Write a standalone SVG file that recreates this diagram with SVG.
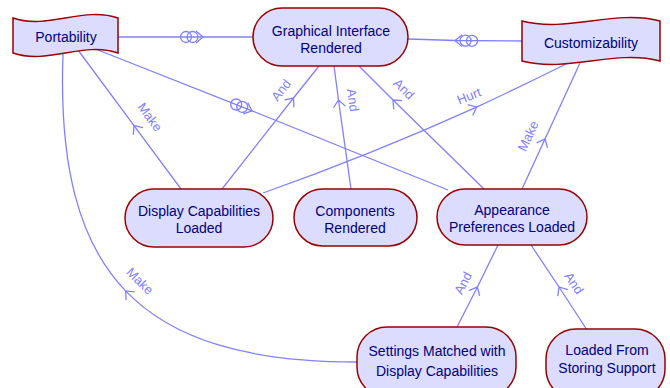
<svg xmlns="http://www.w3.org/2000/svg" width="670" height="388" viewBox="0 0 670 388">
<style>
.node{fill:#dcdcff;stroke:#990000;stroke-width:1.5}
.nt{font-family:"Liberation Sans",Arial,sans-serif;font-size:14px;fill:#000080;text-anchor:middle}
.edge{fill:none;stroke:#8080ff;stroke-width:1.3}
.lbl{font-family:"Liberation Sans",Arial,sans-serif;font-size:13px;fill:#8080ff;text-anchor:middle}
</style>
<defs>
<marker id="chev" markerUnits="userSpaceOnUse" markerWidth="20" markerHeight="20" viewBox="-10 -10 20 20" refX="0" refY="0" orient="auto" overflow="visible">
<path d="M-7,-6 L0,0 L-7,6" fill="none" stroke="#8080ff" stroke-width="1.3"/>
</marker>
<marker id="dep" markerUnits="userSpaceOnUse" markerWidth="30" markerHeight="20" viewBox="-25 -10 30 20" refX="0" refY="0" orient="auto" overflow="visible">
<circle cx="-17" cy="0" r="5.5" fill="none" stroke="#8080ff" stroke-width="1.3"/>
<circle cx="-10.5" cy="0" r="5.5" fill="none" stroke="#8080ff" stroke-width="1.3"/>
<path d="M-7,-6 L0,0 L-7,6" fill="none" stroke="#8080ff" stroke-width="1.3"/>
</marker>
</defs>
<rect width="670" height="388" fill="#ffffff"/>
<g id="connectors">
<path class="edge" marker-mid="url(#dep)" d="M118,37 L203,37 L253,37"/>
<path class="edge" marker-mid="url(#dep)" d="M522,41 L455,40.5 L408,39"/>
<path class="edge" marker-mid="url(#dep)" d="M98,50 L252,110.8 L448,190"/>
<path class="edge" marker-mid="url(#chev)" d="M181,189 L134,125.6 L78,50"/>
<text class="lbl" transform="translate(150,117) rotate(53.5)" dy=".35em">Make</text>
<path class="edge" marker-mid="url(#chev)" d="M222,189 L293.5,98 L319,66"/>
<text class="lbl" transform="translate(281,90) rotate(-52)" dy=".35em">And</text>
<path class="edge" marker-mid="url(#chev)" d="M351,189 L338.5,100 L334,66"/>
<text class="lbl" transform="translate(353,100) rotate(82)" dy=".35em">And</text>
<path class="edge" marker-mid="url(#chev)" d="M484,189 L393,100 L359,66"/>
<text class="lbl" transform="translate(404,89) rotate(45)" dy=".35em">And</text>
<path class="edge" marker-mid="url(#chev)" d="M263,193 Q371.5,154.5 476.6,107.1 Q521.6,86.2 566,64"/>
<text class="lbl" transform="translate(469,96) rotate(-22)" dy=".35em">Hurt</text>
<path class="edge" marker-mid="url(#chev)" d="M522,189 L545,139 L580,63"/>
<text class="lbl" transform="translate(528,136) rotate(-65)" dy=".35em">Make</text>
<path class="edge" marker-mid="url(#chev)" d="M457,327 L477.4,287 L498,245"/>
<text class="lbl" transform="translate(463,283) rotate(-63)" dy=".35em">And</text>
<path class="edge" marker-mid="url(#chev)" d="M587,330 L559,287 L531,245"/>
<text class="lbl" transform="translate(574,283) rotate(56)" dy=".35em">And</text>
<path class="edge" marker-mid="url(#chev)" d="M357,362 C248.5,362 173,340.25 125.6,290.9 C78.25,241.5 59,164.5 63,54"/>
<text class="lbl" transform="translate(140,281) rotate(45)" dy=".35em">Make</text>
</g>
<g id="portability">
<path class="node" d="M13,18 C48,30 83,6 118,18 L118,53 C83,41 48,65 13,53 Z"/>
<text class="nt" x="66" y="42">Portability</text>
</g>
<g id="customizability">
<path class="node" d="M522,21 C568,33 614,9 660,21 L660,61 C614,49 568,73 522,61 Z"/>
<text class="nt" x="591" y="48">Customizability</text>
</g>
<g id="graphical-interface-rendered">
<rect class="node" x="253" y="8" width="155" height="58" rx="29"/>
<text class="nt" x="331" y="36">Graphical Interface</text>
<text class="nt" x="331" y="53">Rendered</text>
</g>
<g id="display-capabilities-loaded">
<rect class="node" x="125" y="189" width="148" height="58" rx="29"/>
<text class="nt" x="199" y="216">Display Capabilities</text>
<text class="nt" x="199" y="233">Loaded</text>
</g>
<g id="components-rendered">
<rect class="node" x="294" y="189" width="123" height="57" rx="28.5"/>
<text class="nt" x="355" y="216">Components</text>
<text class="nt" x="355" y="233">Rendered</text>
</g>
<g id="appearance-preferences-loaded">
<rect class="node" x="437" y="189" width="150" height="56" rx="28"/>
<text class="nt" x="512" y="215">Appearance</text>
<text class="nt" x="512" y="232">Preferences Loaded</text>
</g>
<g id="settings-matched">
<rect class="node" x="357" y="327" width="159" height="70" rx="30"/>
<text class="nt" x="437" y="356">Settings Matched with</text>
<text class="nt" x="437" y="376">Display Capabilities</text>
</g>
<g id="loaded-from-storing-support">
<rect class="node" x="546" y="329" width="119" height="70" rx="30"/>
<text class="nt" x="607" y="355">Loaded From</text>
<text class="nt" x="607" y="373">Storing Support</text>
</g>
</svg>
